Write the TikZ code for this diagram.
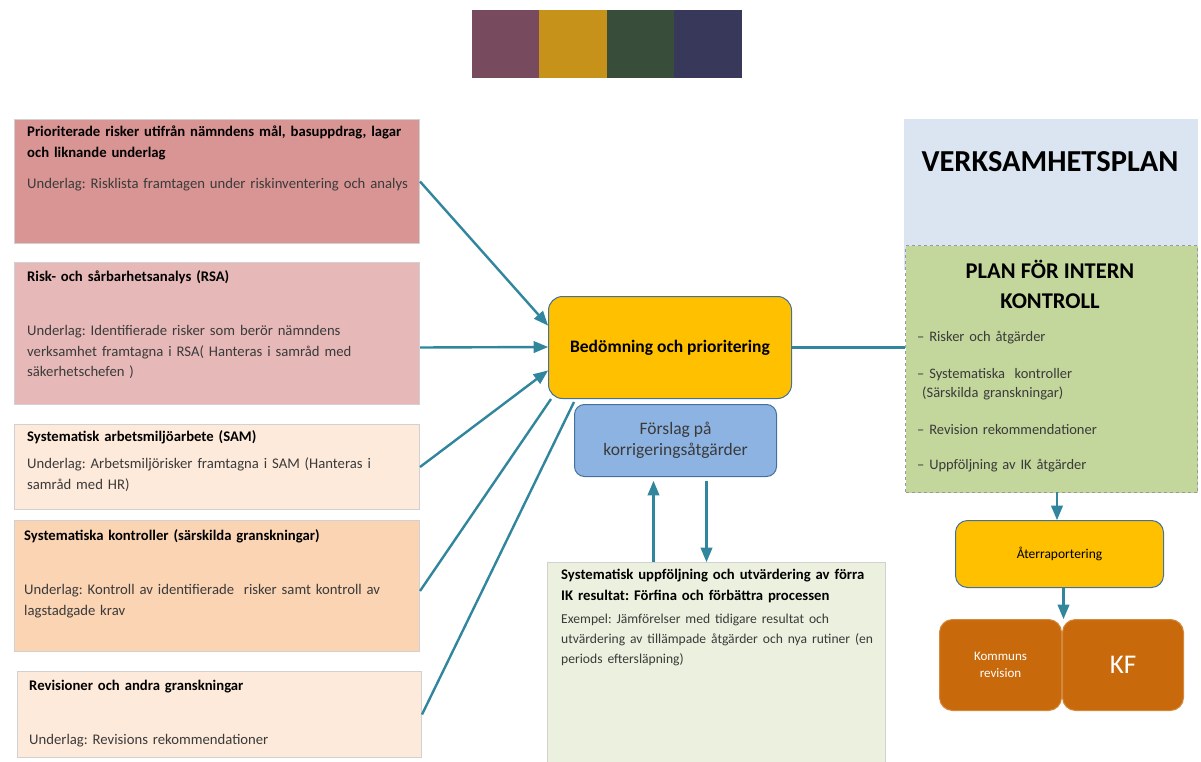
\documentclass[tikz,border=0pt]{standalone}
\usepackage{fontspec}
\setmainfont{Carlito}
\frenchspacing
\usetikzlibrary{arrows}

\definecolor{mauve}{HTML}{774A5E}
\definecolor{gold}{HTML}{C6921A}
\definecolor{pine}{HTML}{384E3B}
\definecolor{navy}{HTML}{37385A}
\definecolor{riskred}{HTML}{D99594}
\definecolor{riskpink}{HTML}{E6B9B8}
\definecolor{peach}{HTML}{FDEADA}
\definecolor{apricot}{HTML}{FBD4B4}
\definecolor{amber}{HTML}{FFC000}
\definecolor{skyblue}{HTML}{8DB3E2}
\definecolor{paleblue}{HTML}{DBE5F1}
\definecolor{palegreen}{HTML}{EBF1DE}
\definecolor{olive}{HTML}{C3D69B}
\definecolor{rust}{HTML}{C86A0C}
\definecolor{teal}{HTML}{31859C}
\definecolor{edge}{HTML}{41719C}
\definecolor{ink}{HTML}{3A3A3A}

\tikzset{
  sheet/.style={draw=black!18, line width=1pt, anchor=north west},
  pill/.style={draw=edge, line width=1pt, rounded corners=14pt, anchor=north west},
  txt/.style={anchor=north west, inner sep=0pt, align=left, text=ink,
    font=\fontsize{14.7}{20.5}\selectfont},
  arr/.style={draw=teal, line width=2.4pt, -triangle 45},
  link/.style={draw=teal, line width=2.4pt}
}

\begin{document}
\begin{tikzpicture}[x=1pt,y=-1pt]
\useasboundingbox (0,0) rectangle (1201,762);

% colour strip
\fill[mauve] (472,10) rectangle (539,78);
\fill[gold] (539,10) rectangle (607,78);
\fill[pine] (607,10) rectangle (674,78);
\fill[navy] (674,10) rectangle (742,78);

% left column
\node[sheet, fill=riskred, minimum width=405pt, minimum height=124pt] (prio) at (14,119) {};
\node[txt, text width=395pt] (prio-t) at (27,126)
  {\textcolor{black}{\textbf{Prioriterade risker utifrån nämndens mål, basuppdrag, lagar\\och liknande underlag}}\\[11pt]
   Underlag: Risklista framtagen under riskinventering och analys};

\node[sheet, fill=riskpink, minimum width=405pt, minimum height=142pt] (rsa) at (14,262) {};
\node[txt, text width=390pt] (rsa-t) at (27,270)
  {\textcolor{black}{\textbf{Risk- och sårbarhetsanalys (RSA)}}\\[34pt]
   Underlag: Identifierade risker som berör nämndens\\
   verksamhet framtagna i RSA( Hanteras i samråd med\\
   säkerhetschefen )};

\node[sheet, fill=peach, minimum width=405pt, minimum height=85pt] (sam) at (14,424) {};
\node[txt, text width=390pt] (sam-t) at (27,430)
  {\textcolor{black}{\textbf{Systematisk arbetsmiljöarbete (SAM)}}\\[7pt]
   Underlag: Arbetsmiljörisker framtagna i SAM (Hanteras i\\
   samråd med HR)};

\node[sheet, fill=apricot, minimum width=405pt, minimum height=131pt] (kontr) at (14,520) {};
\node[txt, text width=395pt] (kontr-t) at (24,529)
  {\textcolor{black}{\textbf{Systematiska kontroller (särskilda granskningar)}}\\[34pt]
   Underlag: Kontroll av identifierade \ risker samt kontroll av\\
   lagstadgade krav};

\node[sheet, fill=peach, minimum width=404pt, minimum height=86pt] (rev) at (17,671) {};
\node[txt, text width=390pt] (rev-t) at (29,680)
  {\textcolor{black}{\textbf{Revisioner och andra granskningar}}\\[33pt]
   Underlag: Revisions rekommendationer};

% middle
\node[pill, fill=amber, minimum width=243pt, minimum height=102pt,
  font=\fontsize{17.5}{20}\bfseries] (bedom) at (548,296) {Bedömning och prioritering};
\node[pill, fill=skyblue, minimum width=202pt, minimum height=72pt, rounded corners=10pt,
  align=center, text=ink, font=\fontsize{17.5}{21}\selectfont] (forslag) at (574,404)
  {Förslag på\\korrigeringsåtgärder};

\node[sheet, fill=palegreen, minimum width=338pt, minimum height=205pt] (uppf) at (547,562) {};
\node[txt, text width=330pt] (uppf-t) at (561,569)
  {\textcolor{black}{\textbf{Systematisk uppföljning och utvärdering av förra\\IK resultat: Förfina och förbättra processen}}\\[3pt]
   {\fontsize{13.6}{20}\selectfont Exempel: Jämförelser med tidigare resultat och\\
   utvärdering av tillämpade åtgärder och nya rutiner (en\\
   periods eftersläpning)}};

% right column
\node[sheet, draw=none, fill=paleblue, minimum width=294pt, minimum height=150pt] (vp) at (903,119) {};
\node[anchor=center, inner sep=0pt, font=\fontsize{30.5}{34}\bfseries] (vp-t) at (1050,162) {VERKSAMHETSPLAN};

\node[sheet, draw=black!40, dashed, fill=olive, minimum width=292pt, minimum height=247pt] (plan) at (905,245) {};
\node[anchor=center, inner sep=0pt, align=center, font=\fontsize{22.5}{30}\bfseries] (plan-t) at (1050,284)
  {PLAN FÖR INTERN\\KONTROLL};
\node[txt, text width=275pt, font=\fontsize{14.5}{19}\selectfont] (plan-l) at (917,331)
  {– Risker och åtgärder\\[18pt]
   – Systematiska \ kontroller\\
   \hspace*{5pt}(Särskilda granskningar)\\[18pt]
   – Revision rekommendationer\\[16pt]
   – Uppföljning av IK åtgärder};

\node[pill, fill=amber, minimum width=208pt, minimum height=67pt, rounded corners=12pt,
  font=\fontsize{13.5}{16}\selectfont] (aterr) at (955,520) {Återraportering};

\node[pill, draw=rust!80!white, fill=rust, minimum width=122pt, minimum height=91pt,
  rounded corners=13pt, align=center, text=white, font=\fontsize{13}{17}\selectfont] (kommun) at (939,619)
  {Kommuns\\revision};
\node[pill, draw=rust!80!white, fill=rust, minimum width=121pt, minimum height=91pt,
  rounded corners=13pt, text=white, font=\fontsize{27}{30}\selectfont] (kf) at (1062,619) {KF};

% connectors
\draw[arr] (prio.east) -- ([yshift=22pt]bedom.west);
\draw[arr] ([yshift=-14pt]rsa.east) -- (bedom.west |- 0,347);
\draw[arr] (sam.east) -- ([yshift=-23pt]bedom.west);
\draw[link] ([yshift=-5pt]kontr.east) -- ([xshift=3pt]bedom.south west);
\draw[link] (rev.east) -- ([xshift=26pt,yshift=-3pt]bedom.south west);
\draw[link] (bedom.east) -- (bedom.east -| plan.west);

\draw[arr] ([xshift=-22pt]forslag.south |- uppf.north) -- ([xshift=-22pt,yshift=-4pt]forslag.south);
\draw[arr] ([xshift=31pt,yshift=-4pt]forslag.south) -- ([xshift=31pt]forslag.south |- uppf.north);

\draw[arr] (1057,492) -- (aterr.north -| 1057,0);
\draw[arr] ([xshift=4pt]aterr.south) -- ([xshift=4pt]aterr.south |- kf.north);
\end{tikzpicture}
\end{document}
